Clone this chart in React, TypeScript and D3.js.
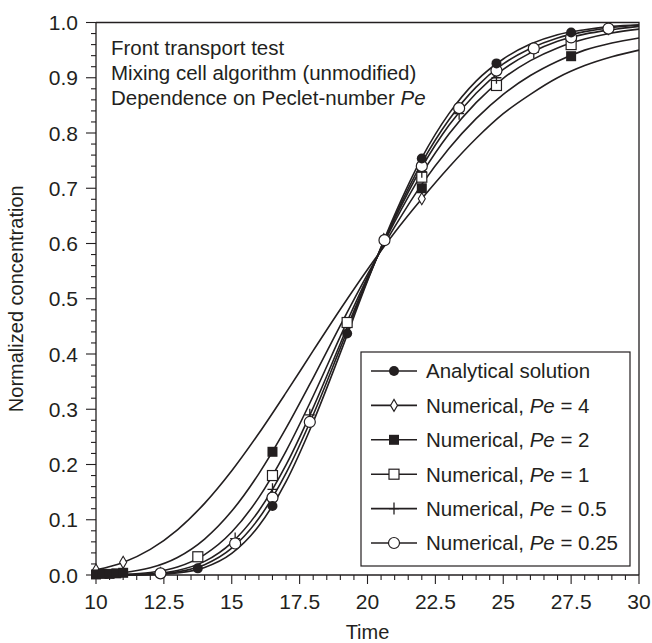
import { useEffect, useRef } from 'react'
import * as d3 from 'd3'

// sample times for the curves
const times = [10, 11, 12, 13, 14, 15, 16, 17, 18, 19, 20, 21, 22, 23, 24, 25, 26, 27, 28, 29, 30]

const analytical = [0.0000, 0.0001, 0.0007, 0.0036, 0.0136, 0.039, 0.089, 0.169, 0.277, 0.402, 0.532, 0.652, 0.755, 0.835, 0.894, 0.934, 0.961, 0.978, 0.987, 0.993, 0.996]
const pe4 = [0.0094, 0.0228, 0.0463, 0.0818, 0.1297, 0.1887, 0.2565, 0.330, 0.406, 0.481, 0.553, 0.620, 0.681, 0.738, 0.790, 0.835, 0.870, 0.900, 0.922, 0.938, 0.950]
const pe2 = [0.0010, 0.0042, 0.0130, 0.0318, 0.0651, 0.1157, 0.1835, 0.2657, 0.357, 0.4517, 0.544, 0.630, 0.707, 0.772, 0.826, 0.870, 0.904, 0.930, 0.950, 0.963, 0.972]
const pe1 = [0.0001, 0.0010, 0.0044, 0.0145, 0.037, 0.0778, 0.1405, 0.2244, 0.324, 0.432, 0.539, 0.639, 0.726, 0.798, 0.855, 0.899, 0.931, 0.954, 0.970, 0.981, 0.988]
const pe05 = [0.0000, 0.0004, 0.0020, 0.0082, 0.0246, 0.0587, 0.1164, 0.1993, 0.303, 0.419, 0.536, 0.644, 0.738, 0.814, 0.872, 0.915, 0.945, 0.966, 0.979, 0.987, 0.993]
const pe025 = [0.0000, 0.0002, 0.0012, 0.0056, 0.0187, 0.0485, 0.1026, 0.1844, 0.290, 0.411, 0.534, 0.648, 0.746, 0.824, 0.883, 0.925, 0.953, 0.972, 0.9835, 0.991, 0.995]

// marker points [time, concentration]
const markAnalytical = [[13.75, 0.012], [16.5, 0.125], [19.25, 0.437], [22, 0.754], [24.75, 0.926], [27.5, 0.982]]
const markPe4 = [[10, 0.009], [11, 0.023], [20.6, 0.607], [22, 0.681]]
const markPe2 = [[10, 0.001], [10.25, 0.002], [10.5, 0.002], [10.75, 0.003], [11, 0.004], [16.5, 0.223], [22, 0.70], [27.5, 0.939]]
const markPe1 = [[13.75, 0.033], [16.5, 0.18], [19.25, 0.457], [22, 0.72], [24.75, 0.886], [27.5, 0.96]]
const markPe05 = [[12.375, 0.004], [15.125, 0.066], [16.5, 0.155], [17.875, 0.29], [22, 0.73], [23.375, 0.835], [24.75, 0.90], [26.125, 0.946], [28.875, 0.988]]
const markPe025 = [[12.375, 0.003], [15.125, 0.057], [16.5, 0.14], [17.875, 0.277], [20.625, 0.606], [22, 0.74], [23.375, 0.845], [24.75, 0.913], [26.125, 0.953], [27.5, 0.973], [28.875, 0.989]]

const legendLabels = ['4', '2', '1', '0.5', '0.25']

const INK = '#231f20'
const FONT = '"Liberation Sans", Arial, Helvetica, sans-serif'

function drawMarker(g, type, cx, cy) {
  if (type === 'filledCircle') {
    g.append('circle').attr('cx', cx).attr('cy', cy).attr('r', 5).attr('fill', INK)
  } else if (type === 'openCircle') {
    g.append('circle').attr('cx', cx).attr('cy', cy).attr('r', 5.5)
      .attr('fill', '#fff').attr('stroke', INK).attr('stroke-width', 1.2)
  } else if (type === 'filledSquare') {
    g.append('rect').attr('x', cx - 5).attr('y', cy - 5).attr('width', 10).attr('height', 10).attr('fill', INK)
  } else if (type === 'openSquare') {
    g.append('rect').attr('x', cx - 5).attr('y', cy - 5).attr('width', 10).attr('height', 10)
      .attr('fill', '#fff').attr('stroke', INK).attr('stroke-width', 1.2)
  } else if (type === 'diamond') {
    g.append('path')
      .attr('d', `M${cx},${cy - 6}L${cx + 3.5},${cy}L${cx},${cy + 6}L${cx - 3.5},${cy}Z`)
      .attr('fill', '#fff').attr('stroke', INK).attr('stroke-width', 1.1)
  } else if (type === 'plus') {
    g.append('path')
      .attr('d', `M${cx - 5},${cy}H${cx + 5}M${cx},${cy - 6}V${cy + 6}`)
      .attr('stroke', INK).attr('stroke-width', 1.3)
  }
}

export default function App() {
  const svgRef = useRef(null)

  useEffect(() => {
    const svg = d3.select(svgRef.current)
    svg.selectAll('*').remove()

    const width = 652
    const height = 643
    const left = 96, right = 639, top = 22.5, bottom = 575

    svg.attr('width', width).attr('height', height)

    const x = d3.scaleLinear().domain([10, 30]).range([left, right])
    const y = d3.scaleLinear().domain([0, 1]).range([bottom, top])

    // frame
    svg.append('path')
      .attr('d', `M${left},${top}H${right}V${bottom}`)
      .attr('fill', 'none').attr('stroke', INK).attr('stroke-width', 1.3)

    // x axis
    const xMinor = d3.range(10, 30.001, 0.5)
    const xMajor = d3.range(10, 30.001, 2.5)
    svg.append('line').attr('x1', left).attr('x2', right).attr('y1', bottom).attr('y2', bottom)
      .attr('stroke', INK).attr('stroke-width', 1.3)
    svg.append('g').selectAll('line').data(xMinor).enter().append('line')
      .attr('x1', d => x(d)).attr('x2', d => x(d))
      .attr('y1', bottom).attr('y2', d => bottom + (Math.abs(d / 2.5 - Math.round(d / 2.5)) < 1e-6 ? 9 : 5))
      .attr('stroke', INK).attr('stroke-width', 1.1)
    svg.append('g').selectAll('text').data(xMajor).enter().append('text')
      .attr('x', d => x(d)).attr('y', 609)
      .attr('text-anchor', 'middle')
      .style('font-family', FONT).style('font-size', '21px').style('fill', INK)
      .text(d => d3.format('~g')(d))
    svg.append('text')
      .attr('x', (left + right) / 2).attr('y', 639)
      .attr('text-anchor', 'middle')
      .style('font-family', FONT).style('font-size', '20px').style('fill', INK)
      .text('Time')

    // y axis
    const yMinor = d3.range(0, 1.0001, 0.02)
    const yMajor = d3.range(0, 1.0001, 0.1)
    svg.append('line').attr('x1', left).attr('x2', left).attr('y1', top).attr('y2', bottom)
      .attr('stroke', INK).attr('stroke-width', 1.3)
    svg.append('g').selectAll('line').data(yMinor).enter().append('line')
      .attr('y1', d => y(d)).attr('y2', d => y(d))
      .attr('x1', left).attr('x2', d => left - (Math.abs(d * 10 - Math.round(d * 10)) < 1e-6 ? 10 : 5))
      .attr('stroke', INK).attr('stroke-width', 1.1)
    svg.append('g').selectAll('text').data(yMajor).enter().append('text')
      .attr('x', 78).attr('y', d => y(d)).attr('dy', '0.36em')
      .attr('text-anchor', 'end')
      .style('font-family', FONT).style('font-size', '21px').style('fill', INK)
      .text(d => d3.format('.1f')(d))
    svg.append('text')
      .attr('transform', `translate(23, ${(top + bottom) / 2}) rotate(-90)`)
      .attr('text-anchor', 'middle')
      .style('font-family', FONT).style('font-size', '20px').style('fill', INK)
      .text('Normalized concentration')

    // annotation
    const notes = svg.append('g').style('font-family', FONT).style('font-size', '20.5px').style('fill', INK)
    notes.append('text').attr('x', 111).attr('y', 55).text('Front transport test')
    notes.append('text').attr('x', 111).attr('y', 80).text('Mixing cell algorithm (unmodified)')
    const t3 = notes.append('text').attr('x', 111).attr('y', 105)
    t3.append('tspan').text('Dependence on Peclet-number ')
    t3.append('tspan').style('font-style', 'italic').text('Pe')

    // curves
    const series = [
      { values: pe4, marks: markPe4, type: 'diamond' },
      { values: pe2, marks: markPe2, type: 'filledSquare' },
      { values: pe1, marks: markPe1, type: 'openSquare' },
      { values: pe05, marks: markPe05, type: 'plus' },
      { values: pe025, marks: markPe025, type: 'openCircle' },
      { values: analytical, marks: markAnalytical, type: 'filledCircle' },
    ]

    const line = d3.line()
      .x(d => x(d[0]))
      .y(d => y(d[1]))
      .curve(d3.curveMonotoneX)

    const plot = svg.append('g')
    series.forEach(s => {
      plot.append('path')
        .datum(times.map((t, i) => [t, s.values[i]]))
        .attr('d', line)
        .attr('fill', 'none').attr('stroke', INK).attr('stroke-width', 1.6)
    })
    series.forEach(s => {
      const mg = plot.append('g')
      s.marks.forEach(m => drawMarker(mg, s.type, x(m[0]), y(m[1])))
    })

    // legend
    const lg = svg.append('g')
    lg.append('rect').attr('x', 361).attr('y', 352).attr('width', 269).attr('height', 214)
      .attr('fill', '#fff').attr('stroke', INK).attr('stroke-width', 1.2)
    const legendItems = [
      { type: 'filledCircle', label: null },
      { type: 'diamond', label: legendLabels[0] },
      { type: 'filledSquare', label: legendLabels[1] },
      { type: 'openSquare', label: legendLabels[2] },
      { type: 'plus', label: legendLabels[3] },
      { type: 'openCircle', label: legendLabels[4] },
    ]
    legendItems.forEach((item, i) => {
      const cy = 371 + i * 34.4
      lg.append('line').attr('x1', 371).attr('x2', 417).attr('y1', cy).attr('y2', cy)
        .attr('stroke', INK).attr('stroke-width', 1.6)
      drawMarker(lg, item.type, 394, cy)
      const tx = lg.append('text').attr('x', 426).attr('y', cy).attr('dy', '0.36em')
        .style('font-family', FONT).style('font-size', '20.5px').style('fill', INK)
      if (item.label === null) {
        tx.text('Analytical solution')
      } else {
        tx.append('tspan').text('Numerical, ')
        tx.append('tspan').style('font-style', 'italic').text('Pe')
        tx.append('tspan').text(` = ${item.label}`)
      }
    })
  }, [])

  return (
    <div style={{ position: 'absolute', left: 0, top: 0 }}>
      <svg ref={svgRef} style={{ display: 'block', background: '#fff' }}></svg>
    </div>
  )
}
